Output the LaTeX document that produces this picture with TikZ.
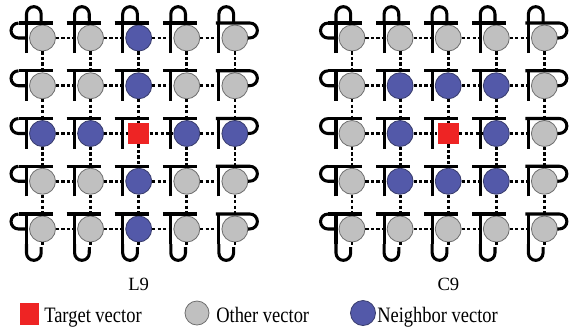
\documentclass[tikz,border=0pt]{standalone}
\usepackage{fontspec}
\setmainfont{Liberation Serif}
\newfontfamily\legendfont[FakeStretch=0.84]{Liberation Serif}

\definecolor{othergray}{HTML}{C0C0C0}
\definecolor{otheredge}{HTML}{6E6E6E}
\definecolor{nbblue}{HTML}{5359A9}
\definecolor{nbedge}{HTML}{383C6C}
\definecolor{tgtred}{HTML}{EE2424}

\tikzset{
  other/.style={circle, fill=othergray, draw=otheredge, line width=0.6pt,
                minimum size=19.5pt, inner sep=0pt},
  nbr/.style={circle, fill=nbblue, draw=nbedge, line width=0.6pt,
              minimum size=19.5pt, inner sep=0pt},
  target/.style={rectangle, fill=tgtred, minimum size=16pt, inner sep=0pt},
  bar/.style={line width=2.3pt, black},
  link/.style={line width=2.1pt, black, dash pattern=on 2.4pt off 1.7pt},
  caption/.style={inner sep=0pt, anchor=base, font=\fontsize{14}{16}\selectfont},
  legtext/.style={inner sep=0pt, anchor=base west,
                  font=\legendfont\fontsize{16.5}{19}\selectfont}
}

% 5x5 lattice of units; #1 name prefix, #2 x of first column,
% #3 neighbourhood kind (0 = row and column, 1 = 3x3 block)
\newcommand\latticenodes[3]{%
  \foreach \r in {0,...,4}{%
    \foreach \c in {0,...,4}{%
      \pgfmathsetmacro\cx{#2+48.1*\c}%
      \pgfmathsetmacro\cy{-(38+47.75*\r)}%
      \pgfmathtruncatemacro\kind{((\r==2) && (\c==2)) ? 2 :
        ((((#3==0) && ((\r==2) || (\c==2))) ||
          ((#3==1) && (abs(\r-2)<=1) && (abs(\c-2)<=1))) ? 1 : 0)}%
      \ifnum\kind=2
        \node[target] (#1-\r-\c) at (\cx,\cy) {};
      \else\ifnum\kind=1
        \node[nbr] (#1-\r-\c) at (\cx,\cy) {};
      \else
        \node[other] (#1-\r-\c) at (\cx,\cy) {};
      \fi\fi
    }%
  }%
}

% solid bars around every unit, with the wrap-around loops on the border
\newcommand\latticeframe[1]{%
  \foreach \r in {0,...,4}{%
    \foreach \c in {0,...,4}{%
      \begin{scope}[shift={(#1-\r-\c.center)}]
        \draw[bar] (-16,-15) -- (-16,15);
        \ifnum\c=4
          \draw[bar] (-19,15) -- (15,15)
            arc[start angle=90, end angle=-90, radius=5.6pt] -- (13,0);
        \else
          \draw[bar] (-24,15) -- (10,15);
        \fi
        \ifnum\c=0
          \draw[bar] (-16,0) -- (-24,0)
            arc[start angle=270, end angle=90, radius=5.6pt];
        \fi
        \ifnum\r=0
          \draw[bar] (-16,15) -- (-16,24)
            arc[start angle=180, end angle=0, radius=5.5pt] -- (-1.3,15);
        \fi
        \ifnum\r=4
          \draw[bar] (-16,-15) -- (-16,-24)
            arc[start angle=180, end angle=360, radius=5.5pt] -- (-1.3,-18);
          \draw[link] (0,-13) -- (0,-18);
        \fi
      \end{scope}
    }%
  }%
}

% dashed links between neighbouring units
\newcommand\latticelinks[1]{%
  \foreach \r in {0,...,4}{%
    \foreach \c in {0,...,3}{%
      \pgfmathtruncatemacro\n{\c+1}%
      \draw[link] (#1-\r-\c) -- (#1-\r-\n);
      \draw[link] (#1-\c-\r) -- (#1-\n-\r);
    }%
  }%
}

\begin{document}
\begin{tikzpicture}[x=0.75pt, y=0.75pt]
  \fill[white] (0,0) rectangle (570,-330);
  \useasboundingbox (0,0) rectangle (570,-330);

  \latticenodes{L}{42.5}{0}
  \latticenodes{C}{352}{1}
  \latticeframe{L}
  \latticeframe{C}
  \latticelinks{L}
  \latticelinks{C}

  \node[caption] (capL) at (138.7,-290) {L9};
  \node[caption] (capC) at (448.4,-290) {C9};

  % legend
  \node[target, minimum width=14.25pt, minimum height=16pt] (legT) at (29,-314) {};
  \node[legtext] (legTt) at (44,-322) {Target vector};
  \node[other, minimum size=18pt] (legO) at (197,-313) {};
  \node[legtext] (legOt) at (216,-322) {Other vector};
  \node[nbr, minimum size=18.75pt] (legN) at (363,-313) {};
  \node[legtext] (legNt) at (377,-322) {Neighbor vector};
\end{tikzpicture}
\end{document}
